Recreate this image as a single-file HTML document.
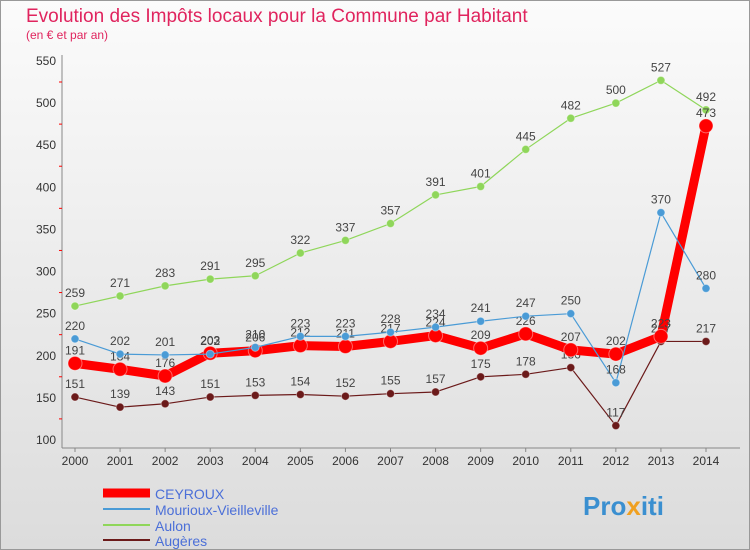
<!DOCTYPE html>
<html><head><meta charset="utf-8"><style>
body{margin:0;width:750px;height:550px;overflow:hidden;font-family:"Liberation Sans",sans-serif;}
.wrap{position:relative;width:748px;height:548px;border:1px solid #999;background:linear-gradient(#fbfbfb,#dcdcdc);}
</style></head><body>
<div class="wrap">
<svg id="chart" width="750" height="550" style="position:absolute;left:-1px;top:-1px">
<text x="26" y="22" font-size="19" fill="#e0245e">Evolution des Impôts locaux pour la Commune par Habitant</text>
<text x="26" y="39" font-size="12" fill="#e0245e">(en € et par an)</text>
<g id="grid"></g><g id="series"></g>
<g>
<line x1="103" y1="493" x2="150" y2="493" stroke="#f00" stroke-width="9"/>
<text x="155" y="499" font-size="14" fill="#4b6fd8">CEYROUX</text>
<line x1="103" y1="509" x2="150" y2="509" stroke="#4a9bd6" stroke-width="2"/>
<text x="155" y="515" font-size="14" fill="#4b6fd8">Mourioux-Vieilleville</text>
<line x1="103" y1="525" x2="150" y2="525" stroke="#8fd65a" stroke-width="2"/>
<text x="155" y="531" font-size="14" fill="#4b6fd8">Aulon</text>
<line x1="103" y1="540" x2="150" y2="540" stroke="#6b1a1a" stroke-width="2"/>
<text x="155" y="546" font-size="14" fill="#4b6fd8">Augères</text>
</g>
<text x="583" y="515" font-size="26" font-weight="bold" fill="#3a8fd0">Pro<tspan fill="#f0a020">x</tspan>iti</text>
</svg></div>
<script>
const years=[2000,2001,2002,2003,2004,2005,2006,2007,2008,2009,2010,2011,2012,2013,2014];
const yTicks=[100,150,200,250,300,350,400,450,500,550];
const ceyroux=[191,184,176,203,206,212,211,217,224,209,226,207,202,223,473];
const mourioux=[220,202,201,202,210,223,223,228,234,241,247,250,168,370,280];
const aulon=[259,271,283,291,295,322,337,357,391,401,445,482,500,527,492];
const augeres=[151,139,143,151,153,154,152,155,157,175,178,186,117,217,217];
const NS="http://www.w3.org/2000/svg";
const xs=i=>75+i*(706-75)/14, ys=v=>440-(v-100)*(379/450);
function mk(t,a,p){const e=document.createElementNS(NS,t);for(const k in a)e.setAttribute(k,a[k]);p.appendChild(e);return e;}
const g=document.getElementById('grid'), s=document.getElementById('series');
const ax=mk('line',{x1:62,y1:55,x2:62,y2:448,stroke:'#888'},g);


const bx=mk('line',{x1:62,y1:448,x2:740,y2:448,stroke:'#888'},g);


yTicks.forEach(v=>{const t=mk('text',{x:56,y:ys(v)+4,'font-size':12,fill:'#333','text-anchor':'end'},g);t.textContent=v;


if(ys(v)+21<448)mk('line',{x1:59,y1:ys(v)+21,x2:62,y2:ys(v)+21,stroke:'#f00'},g);});
years.forEach((y,i)=>{const t=mk('text',{x:xs(i),y:465,'font-size':12,fill:'#333','text-anchor':'middle'},g);t.textContent=y;


mk('line',{x1:xs(i),y1:448,x2:xs(i),y2:452,stroke:'#888'},g);});
function series(d,c,w,r,name){
const p=mk('polyline',{points:d.map((v,i)=>xs(i)+','+ys(v)).join(' '),fill:'none',stroke:c,'stroke-width':w,'stroke-linejoin':'round'},s);


d.forEach((v,i)=>{const c2=mk('circle',{cx:xs(i),cy:ys(v),r:r,fill:c,stroke:'#fff','stroke-opacity':0.4},s);


const t=mk('text',{x:xs(i),y:ys(v)-9,'font-size':12,fill:'#444','text-anchor':'middle'},s);t.textContent=v;

});}
series(augeres,'#6b1a1a',1.2,4,'augeres');
series(aulon,'#8fd65a',1.2,4,'aulon');
series(ceyroux,'#f00',9,7,'ceyroux');
series(mourioux,'#4a9bd6',1.2,4,'mourioux');
</script></body></html>
